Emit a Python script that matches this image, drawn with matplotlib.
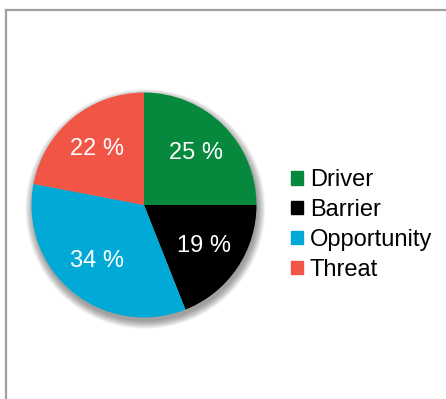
import matplotlib
matplotlib.use('Agg')
import matplotlib.pyplot as plt
from matplotlib.patches import Circle, Rectangle
from matplotlib.lines import Line2D

plt.rcParams['font.family'] = ['Liberation Sans', 'DejaVu Sans']

# Share of factors
categories = ['Driver', 'Barrier', 'Opportunity', 'Threat']
shares = [25, 19, 34, 22]
colors = ['#06893d', '#000000', '#00a9d6', '#f15546']

W, H = 446, 399
fig = plt.figure(figsize=(W / 100, H / 100), dpi=100)

# gray frame line on top and left
frame = '#a0a0a0'
fig.add_artist(Line2D([6 / W, 6 / W], [0, 1 - 10 / H], color=frame, lw=1.6,
                      transform=fig.transFigure))
fig.add_artist(Line2D([6 / W, 1], [1 - 10 / H, 1 - 10 / H], color=frame, lw=1.6,
                      transform=fig.transFigure))

# pie axes: centre (144, 205) px, radius 112.5 px
cx, cy, r, half = 144, 205, 112.5, 125
ax = fig.add_axes([(cx - half) / W, 1 - (cy + half) / H, 2 * half / W, 2 * half / H])

# soft drop shadow
for k in range(12):
    ax.add_patch(Circle((0.012, -0.035), 1.0 + 0.006 * k, color='black',
                        alpha=0.035, lw=0, zorder=0))

wedges, texts, autotexts = ax.pie(
    shares, colors=colors, startangle=90, counterclock=False,
    autopct=lambda p: f'{p:.0f} %', pctdistance=0.65,
    textprops=dict(color='white', fontsize=17), radius=1.0,
    wedgeprops=dict(linewidth=0), frame=True)
ax.set_xlim(-half / r, half / r)
ax.set_ylim(-half / r, half / r)
ax.set_aspect('auto')
ax.axis('off')

handles = [Rectangle((0, 0), 1, 1, color=c) for c in colors]
fig.legend(handles, categories, loc='center left',
           bbox_to_anchor=(291 / W, 1 - 225 / H), bbox_transform=fig.transFigure,
           frameon=False, fontsize=17, borderpad=0, borderaxespad=0,
           handlelength=0.5, handleheight=0.5, handletextpad=0.3,
           labelspacing=0.33)

fig.savefig('out.png', dpi=100)
